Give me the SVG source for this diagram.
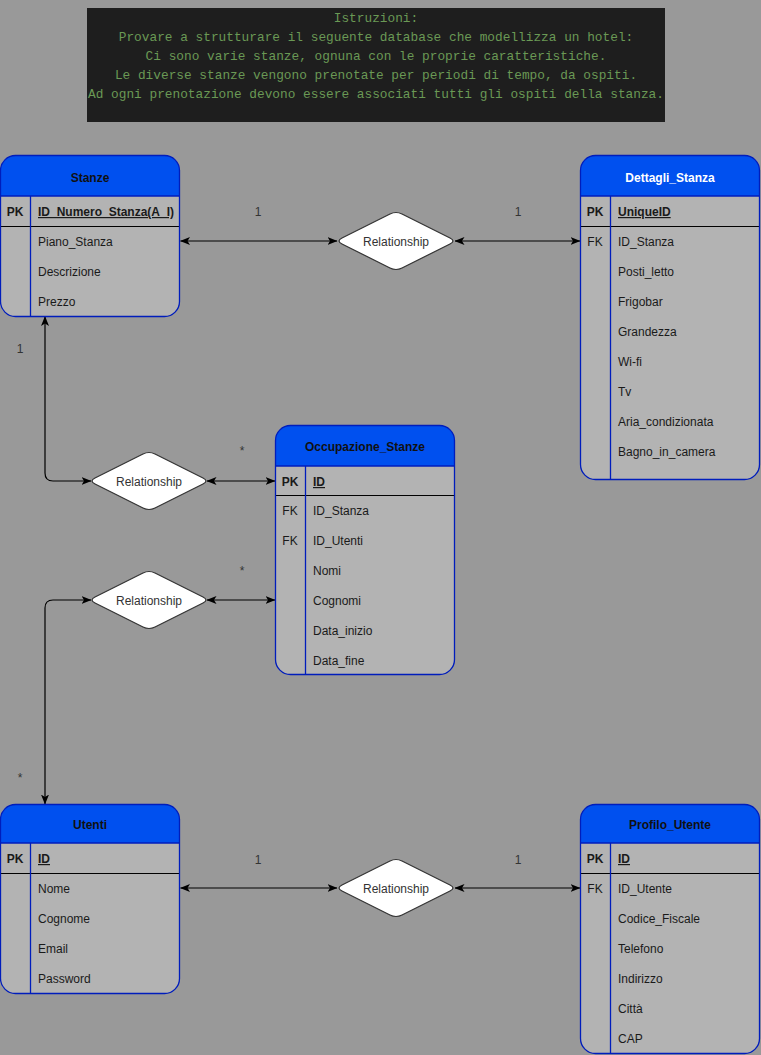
<svg xmlns="http://www.w3.org/2000/svg" width="761" height="1055" viewBox="0 0 761 1055">
  <style>
    .bg { fill: #999999; }
    .note { fill: #1e1e1e; }
    .mono { font-family: "Liberation Mono", "DejaVu Sans Mono", monospace; font-size: 12.8px; fill: #6a9955; text-anchor: middle; }
    .body { fill: #b3b3b3; stroke: none; }
    .head { fill: #0050ef; stroke: none; }
    .frame { fill: none; stroke: #001dbc; stroke-width: 1.3; }
    .sep { stroke: #001dbc; stroke-width: 1.3; }
    .keyline { stroke: #000000; stroke-width: 1.2; }
    .t { font-family: "Liberation Sans", Arial, sans-serif; font-size: 12px; fill: #1a1a1a; }
    .h { font-family: "Liberation Sans", Arial, sans-serif; font-size: 12px; font-weight: bold; fill: #111111; text-anchor: middle; }
    .hw { fill: #ffffff; }
    .k { font-weight: bold; }
    .u { text-decoration: underline; }
    .c { text-anchor: middle; }
    .rel { fill: #ffffff; stroke: #333333; stroke-width: 1.2; }
    .rt { font-family: "Liberation Sans", Arial, sans-serif; font-size: 12px; fill: #333333; text-anchor: middle; }
    .edge { fill: none; stroke: #000000; stroke-width: 1.2; marker-start: url(#arr); marker-end: url(#arr); }
    .lbl { font-family: "Liberation Sans", Arial, sans-serif; font-size: 12px; fill: #333333; text-anchor: middle; }
  </style>
  <defs>
    <marker id="arr" viewBox="0 0 10 8" refX="9.5" refY="4" markerWidth="10" markerHeight="8" markerUnits="userSpaceOnUse" orient="auto-start-reverse">
      <path d="M0,0 L10,4 L0,8 L2.5,4 Z" fill="#000000"/>
    </marker>
    <!-- rounded rhombus centred on 0,0 -->
    <path id="rhombus" d="M-54,-3 L-6,-27 Q0,-30 6,-27 L54,-3 Q60,0 54,3 L6,27 Q0,30 -6,27 L-54,3 Q-60,0 -54,-3 Z"/>
  </defs>

  <rect class="bg" x="0" y="0" width="761" height="1055"/>

  <!-- instructions note -->
  <g id="istruzioni">
    <rect class="note" x="87" y="8" width="578" height="114"/>
    <text class="mono" x="376" y="22">Istruzioni:</text>
    <text class="mono" x="376" y="41">Provare a strutturare il seguente database che modellizza un hotel:</text>
    <text class="mono" x="376" y="60">Ci sono varie stanze, ognuna con le proprie caratteristiche.</text>
    <text class="mono" x="376" y="79">Le diverse stanze vengono prenotate per periodi di tempo, da ospiti.</text>
    <text class="mono" x="376" y="98">Ad ogni prenotazione devono essere associati tutti gli ospiti della stanza.</text>
  </g>

  <!-- connectors -->
  <g id="connectors">
    <path class="edge" d="M180.5,241 L337,241"/>
    <path class="edge" d="M455,241 L580,241"/>
    <path class="edge" d="M45,316.5 L45,473 Q45,481 53,481 L91,481"/>
    <path class="edge" d="M207,481 L275,481"/>
    <path class="edge" d="M207,600 L275,600"/>
    <path class="edge" d="M91,600 L53,600 Q45,600 45,608 L45,804"/>
    <path class="edge" d="M180.5,888 L337,888"/>
    <path class="edge" d="M455,888 L580,888"/>
    <text class="lbl" x="258" y="216">1</text>
    <text class="lbl" x="518" y="216">1</text>
    <text class="lbl" x="20" y="353">1</text>
    <text class="lbl" x="242" y="455">*</text>
    <text class="lbl" x="242" y="575">*</text>
    <text class="lbl" x="20" y="782">*</text>
    <text class="lbl" x="258" y="864">1</text>
    <text class="lbl" x="518" y="864">1</text>
  </g>

  <!-- relationship diamonds -->
  <g id="rel-stanze-dettagli">
    <use href="#rhombus" class="rel" x="396" y="241"/>
    <text class="rt" x="396" y="246">Relationship</text>
  </g>
  <g id="rel-stanze-occupazione">
    <use href="#rhombus" class="rel" x="149" y="481"/>
    <text class="rt" x="149" y="486">Relationship</text>
  </g>
  <g id="rel-utenti-occupazione">
    <use href="#rhombus" class="rel" x="149" y="600"/>
    <text class="rt" x="149" y="605">Relationship</text>
  </g>
  <g id="rel-utenti-profilo">
    <use href="#rhombus" class="rel" x="396" y="888"/>
    <text class="rt" x="396" y="893">Relationship</text>
  </g>

  <!-- Stanze -->
  <g id="stanze">
    <rect class="body" x="0.5" y="155.5" width="179" height="161" rx="15"/>
    <path class="head" d="M0.5,196 V170.5 A15,15 0 0 1 15.5,155.5 H164.5 A15,15 0 0 1 179.5,170.5 V196 Z"/>
    <line class="sep" x1="0.5" y1="196" x2="179.5" y2="196"/>
    <line class="keyline" x1="0.5" y1="226.5" x2="179.5" y2="226.5"/>
    <line class="sep" x1="30.5" y1="196" x2="30.5" y2="316.5"/>
    <rect class="frame" x="0.5" y="155.5" width="179" height="161" rx="15"/>
    <text class="h" x="90" y="182">Stanze</text>
    <text class="t k c" x="15" y="216">PK</text>
    <text class="t k u" x="38" y="216">ID_Numero_Stanza(A_I)</text>
    <text class="t" x="38" y="246">Piano_Stanza</text>
    <text class="t" x="38" y="276">Descrizione</text>
    <text class="t" x="38" y="306">Prezzo</text>
  </g>

  <!-- Dettagli_Stanza -->
  <g id="dettagli-stanza">
    <rect class="body" x="580.5" y="155.5" width="179" height="324" rx="15"/>
    <path class="head" d="M580.5,196 V170.5 A15,15 0 0 1 595.5,155.5 H744.5 A15,15 0 0 1 759.5,170.5 V196 Z"/>
    <line class="sep" x1="580.5" y1="196" x2="759.5" y2="196"/>
    <line class="keyline" x1="580.5" y1="226.5" x2="759.5" y2="226.5"/>
    <line class="sep" x1="610.5" y1="196" x2="610.5" y2="479.5"/>
    <rect class="frame" x="580.5" y="155.5" width="179" height="324" rx="15"/>
    <text class="h hw" x="670" y="182">Dettagli_Stanza</text>
    <text class="t k c" x="595" y="216">PK</text>
    <text class="t k u" x="618" y="216">UniqueID</text>
    <text class="t c" x="595" y="246">FK</text>
    <text class="t" x="618" y="246">ID_Stanza</text>
    <text class="t" x="618" y="276">Posti_letto</text>
    <text class="t" x="618" y="306">Frigobar</text>
    <text class="t" x="618" y="336">Grandezza</text>
    <text class="t" x="618" y="366">Wi-fi</text>
    <text class="t" x="618" y="396">Tv</text>
    <text class="t" x="618" y="426">Aria_condizionata</text>
    <text class="t" x="618" y="456">Bagno_in_camera</text>
  </g>

  <!-- Occupazione_Stanze -->
  <g id="occupazione-stanze">
    <rect class="body" x="275.5" y="425.5" width="179" height="249" rx="15"/>
    <path class="head" d="M275.5,466 V440.5 A15,15 0 0 1 290.5,425.5 H439.5 A15,15 0 0 1 454.5,440.5 V466 Z"/>
    <line class="sep" x1="275.5" y1="466" x2="454.5" y2="466"/>
    <line class="keyline" x1="275.5" y1="495.5" x2="454.5" y2="495.5"/>
    <line class="sep" x1="305.5" y1="466" x2="305.5" y2="674.5"/>
    <rect class="frame" x="275.5" y="425.5" width="179" height="249" rx="15"/>
    <text class="h" x="365" y="451">Occupazione_Stanze</text>
    <text class="t k c" x="290" y="486">PK</text>
    <text class="t k u" x="313" y="486">ID</text>
    <text class="t c" x="290" y="515">FK</text>
    <text class="t" x="313" y="515">ID_Stanza</text>
    <text class="t c" x="290" y="545">FK</text>
    <text class="t" x="313" y="545">ID_Utenti</text>
    <text class="t" x="313" y="575">Nomi</text>
    <text class="t" x="313" y="605">Cognomi</text>
    <text class="t" x="313" y="635">Data_inizio</text>
    <text class="t" x="313" y="665">Data_fine</text>
  </g>

  <!-- Utenti -->
  <g id="utenti">
    <rect class="body" x="0.5" y="804.5" width="179" height="189" rx="15"/>
    <path class="head" d="M0.5,843 V819.5 A15,15 0 0 1 15.5,804.5 H164.5 A15,15 0 0 1 179.5,819.5 V843 Z"/>
    <line class="sep" x1="0.5" y1="843" x2="179.5" y2="843"/>
    <line class="keyline" x1="0.5" y1="873.5" x2="179.5" y2="873.5"/>
    <line class="sep" x1="30.5" y1="843" x2="30.5" y2="993.5"/>
    <rect class="frame" x="0.5" y="804.5" width="179" height="189" rx="15"/>
    <text class="h" x="90" y="829">Utenti</text>
    <text class="t k c" x="15" y="863">PK</text>
    <text class="t k u" x="38" y="863">ID</text>
    <text class="t" x="38" y="893">Nome</text>
    <text class="t" x="38" y="923">Cognome</text>
    <text class="t" x="38" y="953">Email</text>
    <text class="t" x="38" y="983">Password</text>
  </g>

  <!-- Profilo_Utente -->
  <g id="profilo-utente">
    <rect class="body" x="580.5" y="804.5" width="179" height="249" rx="15"/>
    <path class="head" d="M580.5,843 V819.5 A15,15 0 0 1 595.5,804.5 H744.5 A15,15 0 0 1 759.5,819.5 V843 Z"/>
    <line class="sep" x1="580.5" y1="843" x2="759.5" y2="843"/>
    <line class="keyline" x1="580.5" y1="873.5" x2="759.5" y2="873.5"/>
    <line class="sep" x1="610.5" y1="843" x2="610.5" y2="1053.5"/>
    <rect class="frame" x="580.5" y="804.5" width="179" height="249" rx="15"/>
    <text class="h" x="670" y="829">Profilo_Utente</text>
    <text class="t k c" x="595" y="863">PK</text>
    <text class="t k u" x="618" y="863">ID</text>
    <text class="t c" x="595" y="893">FK</text>
    <text class="t" x="618" y="893">ID_Utente</text>
    <text class="t" x="618" y="923">Codice_Fiscale</text>
    <text class="t" x="618" y="953">Telefono</text>
    <text class="t" x="618" y="983">Indirizzo</text>
    <text class="t" x="618" y="1013">Città</text>
    <text class="t" x="618" y="1043">CAP</text>
  </g>
</svg>
